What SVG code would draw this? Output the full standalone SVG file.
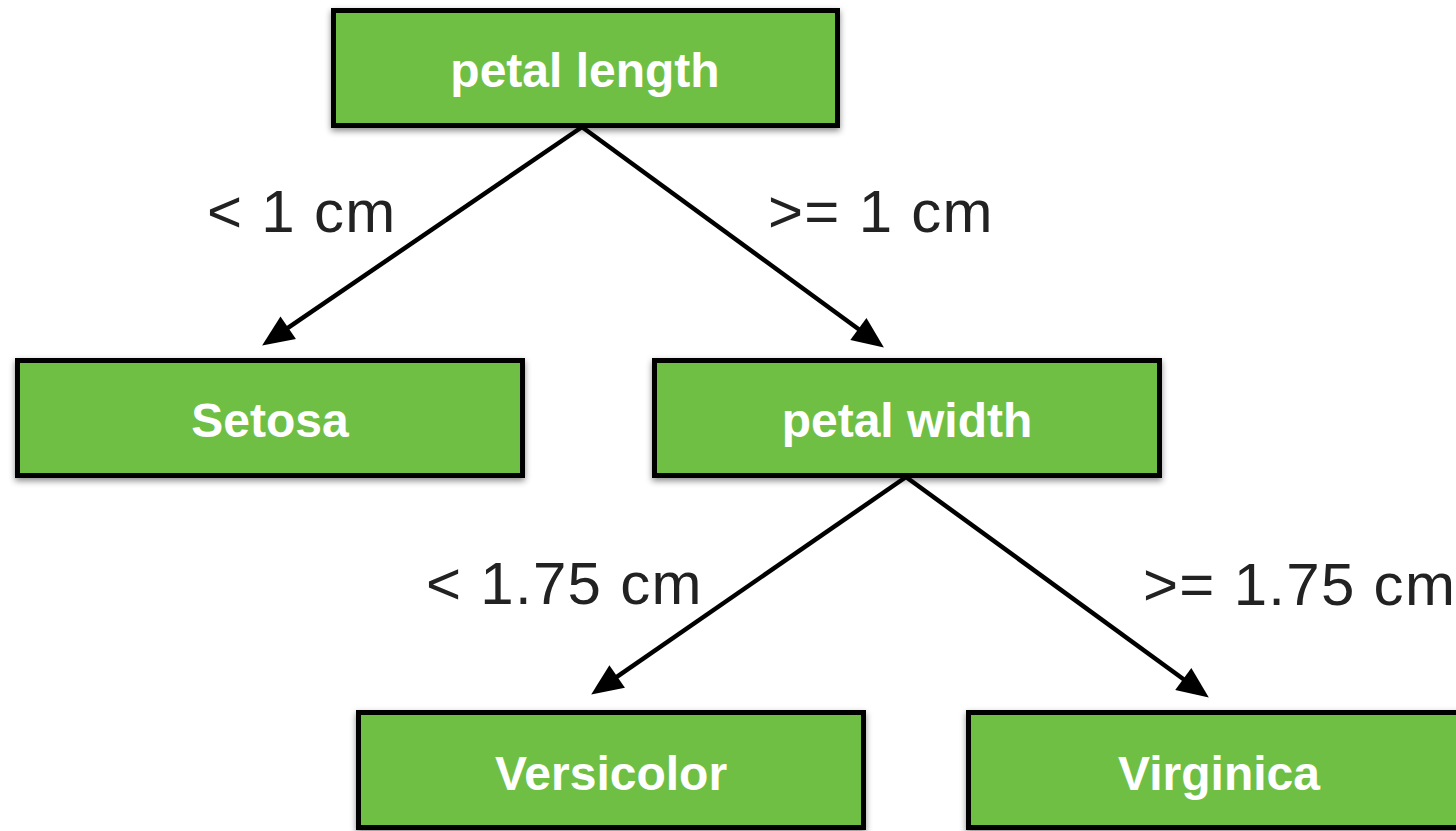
<svg xmlns="http://www.w3.org/2000/svg" width="1456" height="831" viewBox="0 0 1456 831">
  <style>
    .box { fill: #70bf44; stroke: #000; stroke-width: 5; filter: url(#shadow); }
    .name { font-family: "Liberation Sans", Arial, sans-serif; font-weight: bold; font-size: 48px; fill: #fff; text-anchor: middle; }
    .lbl { font-family: "Liberation Sans", Arial, sans-serif; font-size: 60px; fill: #222; letter-spacing: 1.3px; }
    .edge { stroke: #000; stroke-width: 4.5; fill: none; marker-end: url(#arrow); }
  </style>
  <defs>
    <filter id="shadow" x="-5%" y="-10%" width="110%" height="130%">
      <feDropShadow dx="0" dy="3" stdDeviation="3" flood-color="#000" flood-opacity="0.45"/>
    </filter>
    <marker id="arrow" markerUnits="userSpaceOnUse" markerWidth="40" markerHeight="40" viewBox="-34 -18 38 36" refX="-20" refY="0" orient="auto">
      <path d="M0,0 L-30,-13 L-30,13 Z" fill="#000"/>
    </marker>
  </defs>
  <rect width="1456" height="831" fill="#fff"/>

  <g id="connectors">
    <line class="edge" x1="582" y1="127" x2="279.5" y2="333.7"/>
    <line class="edge" x1="582" y1="127" x2="866.9" y2="335.2"/>
    <line class="edge" x1="906" y1="477" x2="608.5" y2="682.6"/>
    <line class="edge" x1="906" y1="477" x2="1191.8" y2="685.2"/>
    <text class="lbl" x="207" y="232">&lt; 1 cm</text>
    <text class="lbl" x="768" y="232">&gt;= 1 cm</text>
    <text class="lbl" x="426" y="604">&lt; 1.75 cm</text>
    <text class="lbl" x="1143" y="605">&gt;= 1.75 cm</text>
  </g>

  <g id="petal-length">
    <rect class="box" x="333.5" y="10.5" width="504" height="115"/>
    <text class="name" x="585" y="87">petal length</text>
  </g>
  <g id="setosa">
    <rect class="box" x="17.5" y="360.5" width="505" height="115"/>
    <text class="name" x="270" y="437">Setosa</text>
  </g>
  <g id="petal-width">
    <rect class="box" x="654.5" y="360.5" width="505" height="115"/>
    <text class="name" x="907" y="437">petal width</text>
  </g>
  <g id="versicolor">
    <rect class="box" x="358.5" y="712.5" width="505" height="115"/>
    <text class="name" x="611" y="790">Versicolor</text>
  </g>
  <g id="virginica">
    <rect class="box" x="968.5" y="712.5" width="510" height="115"/>
    <text class="name" x="1219" y="790">Virginica</text>
  </g>
</svg>
